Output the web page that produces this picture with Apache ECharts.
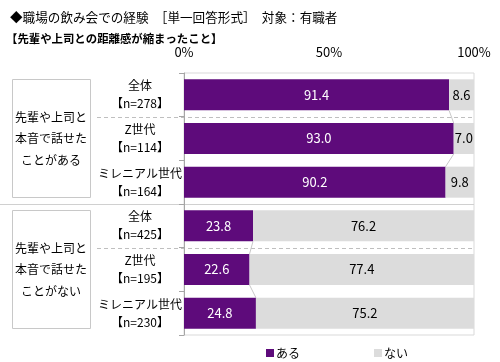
<!DOCTYPE html>
<html><head><meta charset="utf-8">
<script src="https://cdn.jsdelivr.net/npm/echarts@6/dist/echarts.min.js"></script>
<style>html,body{margin:0;padding:0;background:#fff}#c{width:500px;height:362px}</style>
</head><body><div id="c"></div>
<script>
const titleText = '◆職場の飲み会での経験　［単一回答形式］　対象：有職者';
const subTitleText = '【先輩や上司との距離感が縮まったこと】';
const categories = ['全体\n【n=278】','Z世代\n【n=114】','ミレニアル世代\n【n=164】','全体\n【n=425】','Z世代\n【n=195】','ミレニアル世代\n【n=230】'];
const groupLabels = ['先輩や上司と\n本音で話せた\nことがある','先輩や上司と\n本音で話せた\nことがない'];
const groupSizes = [3,3];
const seriesNames = ['ある','ない'];
const aruValues = [91.4, 93.0, 90.2, 23.8, 22.6, 24.8];
const naiValues = [8.6, 7.0, 9.8, 76.2, 77.4, 75.2];
const xTicks = [0, 50, 100];

const FONT = '"Noto Sans CJK JP", "Noto Sans", sans-serif';
const PURPLE = '#5E0B7B';
const GRAY = '#DCDCDC';

const chart = echarts.init(document.getElementById('c'));
chart.setOption({
  animation: false,
  textStyle: {fontFamily: FONT},
  title: [
    {text: titleText, left: 5, top: 6, textStyle: {fontSize: 12.6, fontWeight: 'normal', color: '#000', fontFamily: FONT}},
    {text: subTitleText, left: 1, top: 28, textStyle: {fontSize: 11.4, fontWeight: 'bold', color: '#000', fontFamily: FONT}}
  ],
  legend: {
    left: 261, top: 342, itemWidth: 8, itemHeight: 8, itemGap: 74, icon: 'rect',
    textStyle: {fontSize: 12, color: '#000', fontFamily: FONT, padding: [0,0,0,-3]},
    data: seriesNames
  },
  grid: {left: 184, right: 26, top: 73, bottom: 27, show: true, borderColor: '#D9D9D9', borderWidth: 1},
  xAxis: {
    type: 'value', position: 'top', min: xTicks[0], max: xTicks[xTicks.length-1], interval: 50,
    axisLine: {show: false}, axisTick: {show: false}, splitLine: {show: false},
    axisLabel: {formatter: '{value}%', fontSize: 13, color: '#000', margin: 14, fontFamily: FONT}
  },
  yAxis: {
    type: 'category', inverse: true, data: categories,
    axisLine: {show: true, lineStyle: {color: '#A6A6A6'}},
    axisTick: {show: true, length: 5, lineStyle: {color: '#A6A6A6'}},
    axisLabel: {fontSize: 12, color: '#000', align: 'center', margin: 44, lineHeight: 18, fontFamily: FONT}
  },
  series: [
    {name: seriesNames[0], type: 'bar', stack: 's', data: aruValues, barCategoryGap: '29%',
     itemStyle: {color: PURPLE},
     label: {show: true, position: 'inside', color: '#fff', fontSize: 13, fontFamily: FONT, formatter: p => p.value.toFixed(1)}},
    {name: seriesNames[1], type: 'bar', stack: 's', data: naiValues, barCategoryGap: '29%',
     itemStyle: {color: GRAY},
     label: {show: true, position: 'inside', color: '#000', fontSize: 13, fontFamily: FONT, formatter: p => p.value.toFixed(1)}}
  ]
});

// decorations computed from the axes
const p0 = chart.convertToPixel({gridIndex: 0}, [0, 0]);
const p1 = chart.convertToPixel({gridIndex: 0}, [0, 1]);
const band = p1[1] - p0[1];
const top0 = p0[1] - band / 2;
const xRight = chart.convertToPixel({gridIndex: 0}, [100, 0])[0];
const halfBar = band * 0.71 / 2;
const graphics = [];
let start = 0;
groupSizes.forEach((n, g) => {
  const gTop = top0 + start * band;
  const gBot = gTop + n * band;
  graphics.push({type: 'rect', shape: {x: 12.5, y: gTop + 6.5, width: 78, height: gBot - gTop - 13},
    style: {fill: '#fff', stroke: '#C8C8C8', lineWidth: 1}});
  graphics.push({type: 'text', x: 51, y: (gTop + gBot) / 2,
    style: {text: groupLabels[g], fontSize: 12, fontFamily: FONT, fill: '#000', align: 'center', verticalAlign: 'middle', lineHeight: 21.5}});
  const yd = Math.round(gTop + band) + 0.5;
  graphics.push({type: 'line', shape: {x1: 97, y1: yd, x2: xRight, y2: yd},
    style: {stroke: '#BFBFBF', lineWidth: 1, lineDash: [4, 3]}});
  if (g < groupSizes.length - 1) {
    const ys = Math.round(gBot) + 0.5;
    graphics.push({type: 'line', shape: {x1: 0, y1: ys, x2: xRight, y2: ys},
      style: {stroke: '#D0D0D0', lineWidth: 1}});
  }
  for (let i = start; i < start + n - 1; i++) {
    const a = chart.convertToPixel({gridIndex: 0}, [aruValues[i], i]);
    const b = chart.convertToPixel({gridIndex: 0}, [aruValues[i + 1], i + 1]);
    graphics.push({type: 'line', shape: {x1: a[0], y1: a[1] + halfBar, x2: b[0], y2: b[1] - halfBar},
      style: {stroke: '#C8C8C8', lineWidth: 1}});
  }
  start += n;
});
chart.setOption({graphic: graphics});
</script>
</body></html>
